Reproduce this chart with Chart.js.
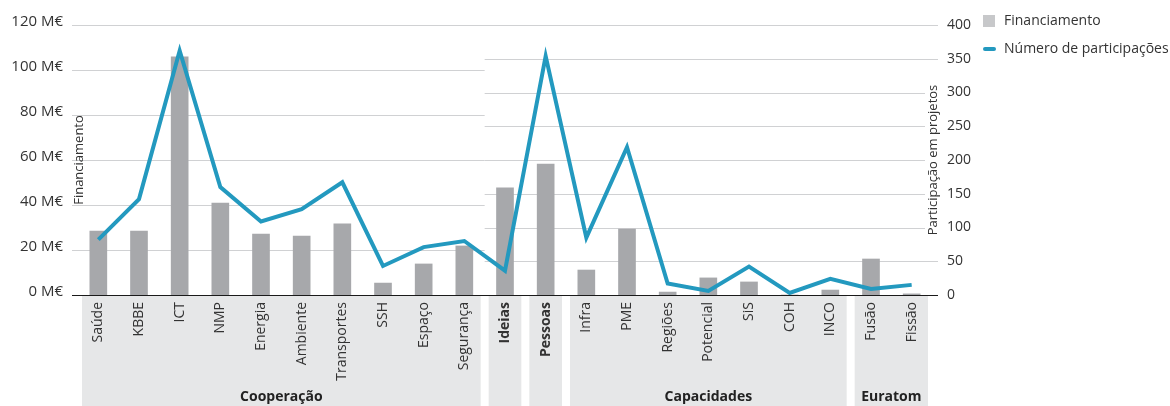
<!DOCTYPE html>
<html lang="pt">
<head>
<meta charset="utf-8">
<title>Financiamento e participações por programa</title>
<script src="https://cdn.jsdelivr.net/npm/chart.js@4.4.1/dist/chart.umd.min.js"></script>
<style>
  html, body { margin: 0; padding: 0; background: #fff; }
  #chart { display: block; }
</style>
</head>
<body>
<canvas id="chart" width="1170" height="406"></canvas>
<script>
const categories = [
  'Saúde', 'KBBE', 'ICT', 'NMP', 'Energia', 'Ambiente', 'Transportes', 'SSH', 'Espaço', 'Segurança',
  'Ideias', 'Pessoas',
  'Infra', 'PME', 'Regiões', 'Potencial', 'SiS', 'COH', 'INCO',
  'Fusão', 'Fissão',
];
// funding in M€
const funding = [
  28.4, 28.4, 105.8, 40.9, 27.1, 26.2, 31.6, 5.3, 13.8, 21.8,
  47.6, 58.2,
  11.1, 29.3, 1.3, 7.6, 5.8, 0, 2.2,
  16.0, 0.5,
];
// number of participations in projects
const participations = [
  82, 142, 362, 160, 109, 127, 167, 43, 71, 80,
  36, 354,
  85, 219, 17, 6, 42, 3, 24,
  9, 15,
];
const boldCategories = ['Ideias', 'Pessoas'];
const groups = [
  { label: 'Cooperação', first: 'Saúde', last: 'Segurança' },
  { label: '', first: 'Ideias', last: 'Ideias' },
  { label: '', first: 'Pessoas', last: 'Pessoas' },
  { label: 'Capacidades', first: 'Infra', last: 'INCO' },
  { label: 'Euratom', first: 'Fusão', last: 'Fissão' },
];
const fundingMax = 120;
const fundingStep = 20;
const participationMax = 400;
const participationStep = 50;

const FONT = "'Open Sans', sans-serif";
const BAR_COLOR = '#a7a8ab';
const LINE_COLOR = '#2399bf';
const LEGEND_BAR_COLOR = '#c7c8ca';
const BAND_COLOR = '#e6e7e8';
const GRID_COLOR = '#d0d1d3';
const TEXT_COLOR = '#333';

Chart.defaults.font.family = FONT;
Chart.defaults.color = TEXT_COLOR;

const decorations = {
  id: 'decorations',
  // bands and grid go under the axes, so the tick labels stay on top
  beforeDraw(chart) {
    const { ctx, chartArea, scales } = chart;
    const half = (chartArea.right - chartArea.left) / categories.length / 2;
    const gridLeft = chartArea.left - 6;
    const gridRight = chartArea.right + 6;
    const split = scales.x.getPixelForValue(categories.indexOf('Segurança')) + half;

    ctx.save();
    groups.forEach((g) => {
      const x0 = scales.x.getPixelForValue(categories.indexOf(g.first)) - half + 4;
      const x1 = scales.x.getPixelForValue(categories.indexOf(g.last)) + half - 4;
      ctx.fillStyle = BAND_COLOR;
      ctx.fillRect(x0, chartArea.bottom + 1, x1 - x0, chart.height - chartArea.bottom - 1);
      if (g.label) {
        ctx.fillStyle = '#222';
        ctx.font = `bold 14px ${FONT}`;
        ctx.textAlign = 'center';
        ctx.textBaseline = 'middle';
        ctx.fillText(g.label, (x0 + x1) / 2, chart.height - 9);
      }
    });

    // funding grid on the left part, participation grid on the right part
    ctx.strokeStyle = GRID_COLOR;
    ctx.lineWidth = 1;
    for (let v = fundingStep; v <= fundingMax; v += fundingStep) {
      const py = Math.round(scales.y.getPixelForValue(v)) + 0.5;
      ctx.beginPath();
      ctx.moveTo(gridLeft, py);
      ctx.lineTo(v === fundingMax ? gridRight : split, py);
      ctx.stroke();
    }
    for (let v = participationStep; v < participationMax; v += participationStep) {
      const py = Math.round(scales.y1.getPixelForValue(v)) + 0.5;
      ctx.beginPath();
      ctx.moveTo(split, py);
      ctx.lineTo(gridRight, py);
      ctx.stroke();
    }
    ctx.restore();
  },
  beforeDatasetsDraw(chart) {
    const { ctx, chartArea } = chart;
    const by = Math.round(chartArea.bottom) + 0.5;
    ctx.save();
    ctx.strokeStyle = '#1a1a1a';
    ctx.lineWidth = 1;
    ctx.beginPath();
    ctx.moveTo(chartArea.left - 6, by);
    ctx.lineTo(chartArea.right + 6, by);
    ctx.stroke();
    ctx.restore();
  },
  afterDraw(chart) {
    const { ctx, chartArea } = chart;
    const midY = (chartArea.top + chartArea.bottom) / 2;
    ctx.save();
    ctx.font = `13px ${FONT}`;
    ctx.fillStyle = TEXT_COLOR;
    ctx.textAlign = 'center';
    ctx.textBaseline = 'middle';

    // axis titles, rotated
    const titles = [
      { text: chart.options.scales.y.title.text, x: chartArea.left + 1, bg: false },
      { text: chart.options.scales.y1.title.text, x: chartArea.right + 1, bg: true },
    ];
    titles.forEach((t) => {
      ctx.save();
      ctx.translate(t.x, midY);
      ctx.rotate(-Math.PI / 2);
      if (t.bg) {
        const w = ctx.measureText(t.text).width;
        ctx.fillStyle = '#fff';
        ctx.fillRect(-w / 2 - 3, -8, w + 6, 16);
        ctx.fillStyle = TEXT_COLOR;
      }
      ctx.fillText(t.text, 0, 0);
      ctx.restore();
    });

    // legend
    const lx = chartArea.right + 51;
    const barSet = chart.data.datasets.find((d) => d.type !== 'line');
    const lineSet = chart.data.datasets.find((d) => d.type === 'line');
    ctx.font = `14px ${FONT}`;
    ctx.textAlign = 'left';
    ctx.fillStyle = LEGEND_BAR_COLOR;
    ctx.fillRect(lx, 15, 12, 12);
    ctx.fillStyle = TEXT_COLOR;
    ctx.fillText(barSet.label, lx + 21, 21);

    ctx.strokeStyle = lineSet.borderColor;
    ctx.lineWidth = 4;
    ctx.lineCap = 'round';
    ctx.beginPath();
    ctx.moveTo(lx + 2, 49);
    ctx.lineTo(lx + 11, 49);
    ctx.stroke();
    ctx.fillText(lineSet.label, lx + 21, 49);
    ctx.restore();
  },
};

new Chart(document.getElementById('chart'), {
  type: 'bar',
  data: {
    labels: categories,
    datasets: [
      {
        type: 'line',
        label: 'Número de participações',
        data: participations,
        yAxisID: 'y1',
        borderColor: LINE_COLOR,
        borderWidth: 4,
        borderJoinStyle: 'miter',
        pointRadius: 0,
        tension: 0,
        order: 0,
      },
      {
        label: 'Financiamento',
        data: funding,
        yAxisID: 'y',
        backgroundColor: BAR_COLOR,
        barThickness: 17,
        order: 1,
      },
    ],
  },
  options: {
    responsive: false,
    animation: false,
    devicePixelRatio: 1,
    layout: { padding: { left: 0, top: 25, right: 187, bottom: 0 } },
    plugins: {
      legend: { display: false },
      tooltip: { enabled: false },
    },
    scales: {
      x: {
        grid: { display: false, drawTicks: false },
        border: { display: false },
        ticks: {
          autoSkip: false,
          minRotation: 90,
          maxRotation: 90,
          padding: 7,
          color: TEXT_COLOR,
          font: (c) => ({
            family: FONT,
            size: 14,
            weight: boldCategories.includes(categories[c.index]) ? 'bold' : 'normal',
          }),
        },
        afterFit: (scale) => { scale.height = 111; },
      },
      y: {
        position: 'left',
        min: 0,
        max: fundingMax,
        title: { display: false, text: 'Financiamento' },
        grid: { display: false, drawTicks: false },
        border: { display: false },
        ticks: {
          stepSize: fundingStep,
          padding: 15,
          labelOffset: -3,
          font: { size: 15 },
          callback: (v) => `${v} M€`,
        },
        afterFit: (scale) => { scale.width = 78; },
      },
      y1: {
        position: 'right',
        min: 0,
        max: participationMax,
        title: { display: false, text: 'Participação em projetos' },
        grid: { display: false, drawTicks: false },
        border: { display: false },
        ticks: {
          stepSize: participationStep,
          padding: 15,
          font: { size: 14 },
        },
        afterFit: (scale) => { scale.width = 51; },
      },
    },
  },
  plugins: [decorations],
});
</script>
</body>
</html>
